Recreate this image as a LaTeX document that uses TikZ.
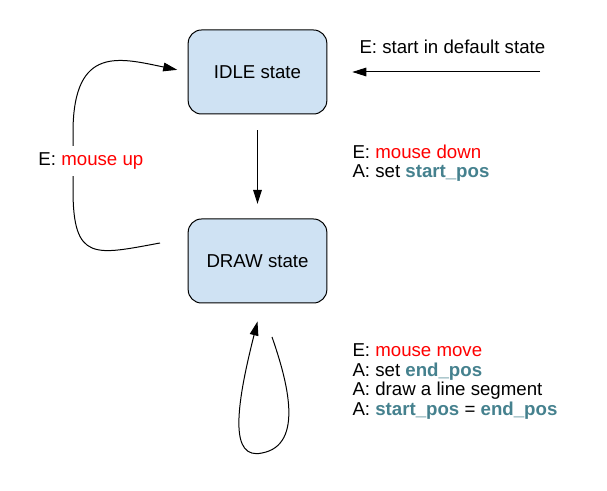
\documentclass[tikz,border=0pt]{standalone}
\usepackage{fontspec}
\setmainfont{Liberation Sans}
\usetikzlibrary{arrows.meta}
\definecolor{stateblue}{HTML}{CFE2F3}
\definecolor{varteal}{HTML}{45818E}
\newcommand{\evt}[1]{\textcolor{red}{#1}}
\newcommand{\var}[1]{\textcolor{varteal}{\textbf{#1}}}

\begin{document}
\begin{tikzpicture}[x=0.75pt,y=-0.75pt,line width=0.75pt,
		>={Triangle[length=10.5pt,width=6.5pt]},
		font=\fontsize{14pt}{17pt}\selectfont,
		statebox/.style={draw,fill=stateblue,rounded corners=10pt,minimum width=104pt,minimum height=63pt},
		note/.style={anchor=base west,inner sep=0pt}]
	\useasboundingbox (0,0) rectangle (607,491);
	% states
	\node[statebox] (idle) at (257.5,72) {IDLE state};
	\node[statebox] (draw) at (257.5,261) {DRAW state};
	% transitions
	\coordinate (start) at (540,72);
	\coordinate (upfrom) at (160,243);
	\coordinate (movefrom) at (272,337);
	\draw[->,shorten >=18.75pt] (start) -- (idle.east);
	\draw[->,shorten <=12pt,shorten >=11pt] (idle) -- (draw);
	\draw[->,shorten >=8pt] (upfrom) .. controls (95,255) and (73,262) .. (73,190)
		-- (73,130) .. controls (74,45) and (120,58) .. (idle.west);
	\draw[->] (movefrom) .. controls (287,380) and (305,445) .. (262,453)
		.. controls (230,460) and (235,410) .. ([yshift=-13.5pt]draw.south);
	% labels
	\node[note] (startlbl) at (359,53.3) {E: start in default state};
	\node[note,fill=white,inner ysep=5pt] (uplbl) at (38,165.7) {E: \evt{mouse up}};
	\node[note] (downlbl) at (352,158.5) {E: \evt{mouse down}};
	\node[note] (downact) at (352,178) {A: set \var{start\_pos}};
	\node[note] (movelbl) at (352,357) {E: \evt{mouse move}};
	\node[note] (moveact) at (352,376.5) {A: set \var{end\_pos}};
	\node[note] (moveseg) at (352,396) {A: draw a line segment};
	\node[note] (movecopy) at (352,415.5) {A: \var{start\_pos} = \var{end\_pos}};
\end{tikzpicture}
\end{document}
